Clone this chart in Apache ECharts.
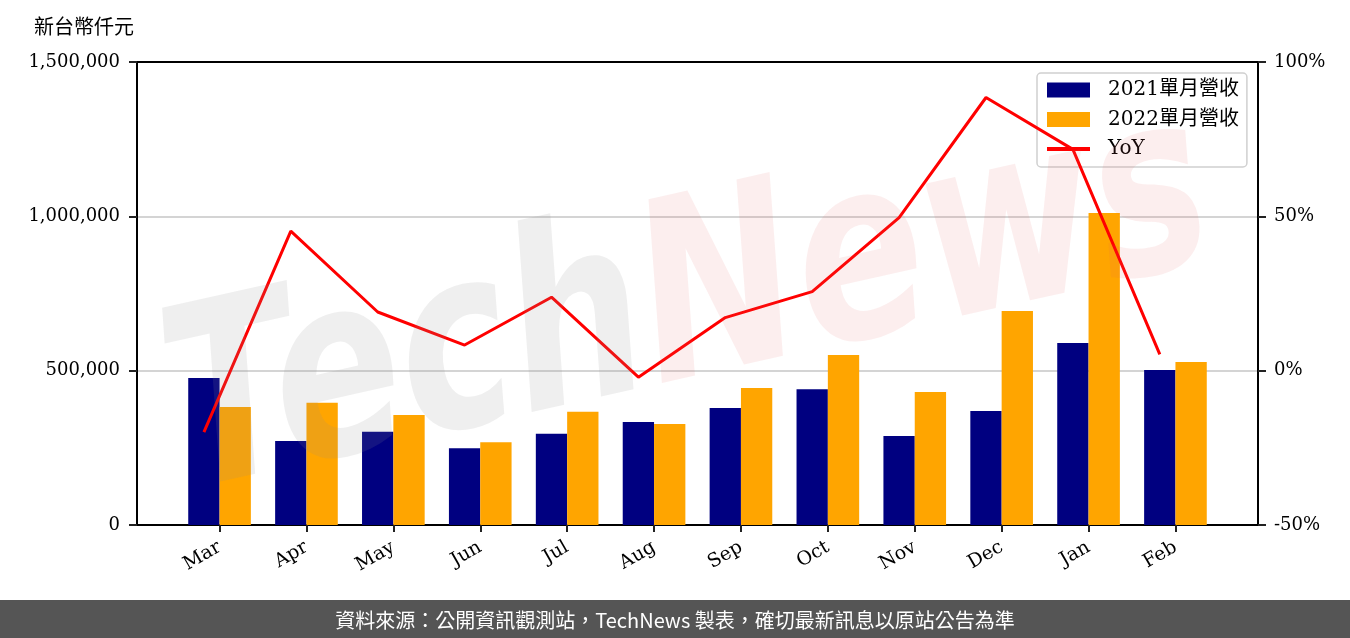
<!DOCTYPE html>
<html>
<head>
<meta charset="utf-8">
<title>單月營收</title>
<script src="https://cdn.jsdelivr.net/npm/echarts@6/dist/echarts.min.js"></script>
<style>
  html, body { margin: 0; padding: 0; background: #fff; }
  #chart { width: 1350px; height: 638px; }
</style>
</head>
<body>
<div id="chart"></div>
<script>
// 月份
const months = ["Mar", "Apr", "May", "Jun", "Jul", "Aug", "Sep", "Oct", "Nov", "Dec", "Jan", "Feb"];
// 2021 / 2022 單月營收（新台幣仟元）
const rev2021 = [476000, 272000, 302000, 249000, 296000, 334000, 379000, 440000, 288000, 369000, 590000, 502000];
const rev2022 = [382000, 396000, 356000, 268000, 367000, 327000, 444000, 551000, 431000, 693000, 1011000, 528000];
// 年增率 %
const yoy = [-19.9, 45.2, 19.0, 8.3, 23.8, -2.1, 17.2, 25.6, 49.6, 88.5, 71.7, 5.3];
const leftTicks = [0, 500000, 1000000, 1500000];
const rightTicks = [-50, 0, 50, 100];

const seriesNames = ["2021單月營收", "2022單月營收", "YoY"];
const footerText = "資料來源：公開資訊觀測站，TechNews 製表，確切最新訊息以原站公告為準";

const font = "'DejaVu Serif', 'Noto Sans CJK TC', serif";
const barW = 0.36; // bar width in category units
const idx = months.map((m, i) => i);

const chart = echarts.init(document.getElementById("chart"));

const options = {
  animation: false,
  title: {
    text: "新台幣仟元",
    left: 29,
    top: 14,
    textStyle: { fontFamily: font, fontSize: 20, fontWeight: "normal", color: "#000" },
  },
  grid: { left: 137, right: 92, top: 62, bottom: 113 },
  legend: {
    orient: "vertical",
    left: 1037,
    top: 73,
    padding: [7, 8, 8, 8],
    itemWidth: 43,
    itemHeight: 15,
    itemGap: 9.5,
    backgroundColor: "rgba(255,255,255,0.8)",
    borderColor: "#d0d0d0",
    borderWidth: 1.5,
    borderRadius: 4,
    textStyle: { fontFamily: font, fontSize: 20, lineHeight: 20, color: "#000", padding: [0, 0, 0, 13] },
    data: [
      { name: seriesNames[0], icon: "rect" },
      { name: seriesNames[1], icon: "rect" },
      { name: seriesNames[2], itemStyle: { opacity: 0 }, lineStyle: { width: 4 } },
    ],
  },
  xAxis: [
    {
      type: "value",
      min: -0.95,
      max: 11.95,
      position: "bottom",
      splitLine: { show: false },
      axisLine: { show: true, onZero: false, lineStyle: { color: "#000", width: 2 } },
      axisTick: { show: true, customValues: idx, length: 7, lineStyle: { color: "#222", width: 2 } },
      axisLabel: {
        customValues: idx,
        formatter: (v) => months[Math.round(v)],
        rotate: 30,
        margin: 21,
        fontFamily: font,
        fontSize: 19,
        color: "#000",
      },
    },
    {
      type: "value",
      min: -0.95,
      max: 11.95,
      position: "top",
      splitLine: { show: false },
      axisLine: { show: true, onZero: false, lineStyle: { color: "#000", width: 2 } },
      axisTick: { show: false },
      axisLabel: { show: false },
    },
  ],
  yAxis: [
    {
      type: "value",
      min: leftTicks[0],
      max: leftTicks[leftTicks.length - 1],
      interval: 500000,
      axisLine: { show: true, onZero: false, lineStyle: { color: "#000", width: 2 } },
      axisTick: { show: true, length: 8, lineStyle: { color: "#222", width: 2 } },
      axisLabel: {
        margin: 17,
        fontFamily: font,
        fontSize: 18,
        color: "#000",
        formatter: (v) => v.toLocaleString("en-US"),
      },
      splitLine: { show: true, lineStyle: { color: "#d4d4d4", width: 2 } },
    },
    {
      type: "value",
      min: rightTicks[0],
      max: rightTicks[rightTicks.length - 1],
      interval: 50,
      position: "right",
      axisLine: { show: true, onZero: false, lineStyle: { color: "#000", width: 2 } },
      axisTick: { show: true, length: 8, lineStyle: { color: "#222", width: 2 } },
      axisLabel: { margin: 16, fontFamily: font, fontSize: 18, color: "#000", formatter: "{value}%" },
      splitLine: { show: false },
    },
  ],
  series: [
    {
      name: seriesNames[0],
      type: "bar",
      barWidth: barW * 87,
      barGap: "0%",
      itemStyle: { color: "#000080" },
      data: rev2021.map((v, i) => [i, v]),
    },
    {
      name: seriesNames[1],
      type: "bar",
      barWidth: barW * 87,
      barGap: "0%",
      itemStyle: { color: "#ffa500" },
      data: rev2022.map((v, i) => [i, v]),
    },
    {
      name: seriesNames[2],
      type: "line",
      yAxisIndex: 1,
      symbol: "none",
      z: 5,
      lineStyle: { color: "#ff0000", width: 3 },
      itemStyle: { color: "#ff0000" },
      // 折線畫在 2021 柱的中心
      data: yoy.map((v, i) => [i - barW / 2, v]),
    },
  ],
  graphic: [
    // 浮水印
    {
      type: "text",
      x: 690,
      y: 310,
      rotation: 0.22,
      scaleX: 0.76,
      z: 100,
      silent: true,
      style: {
        text: "{a|Tech}{b|News}",
        align: "center",
        verticalAlign: "middle",
        rich: {
          a: { fontFamily: "'DejaVu Sans'", fontStyle: "italic", fontWeight: "bold", fontSize: 250, fill: "rgba(140,140,140,0.14)" },
          b: { fontFamily: "'DejaVu Sans'", fontStyle: "italic", fontWeight: "bold", fontSize: 250, fill: "rgba(225,90,90,0.10)" },
        },
      },
    },
    // 頁尾
    {
      type: "rect",
      shape: { x: 0, y: 600, width: 1350, height: 38 },
      style: { fill: "#555555" },
      z: 50,
    },
    {
      type: "text",
      x: 675,
      y: 620,
      z: 51,
      style: {
        text: footerText,
        align: "center",
        verticalAlign: "middle",
        fontFamily: "'Noto Sans CJK TC', sans-serif",
        fontSize: 20,
        fill: "#ffffff",
      },
    },
  ],
};

options && chart.setOption(options);
</script>
</body>
</html>
